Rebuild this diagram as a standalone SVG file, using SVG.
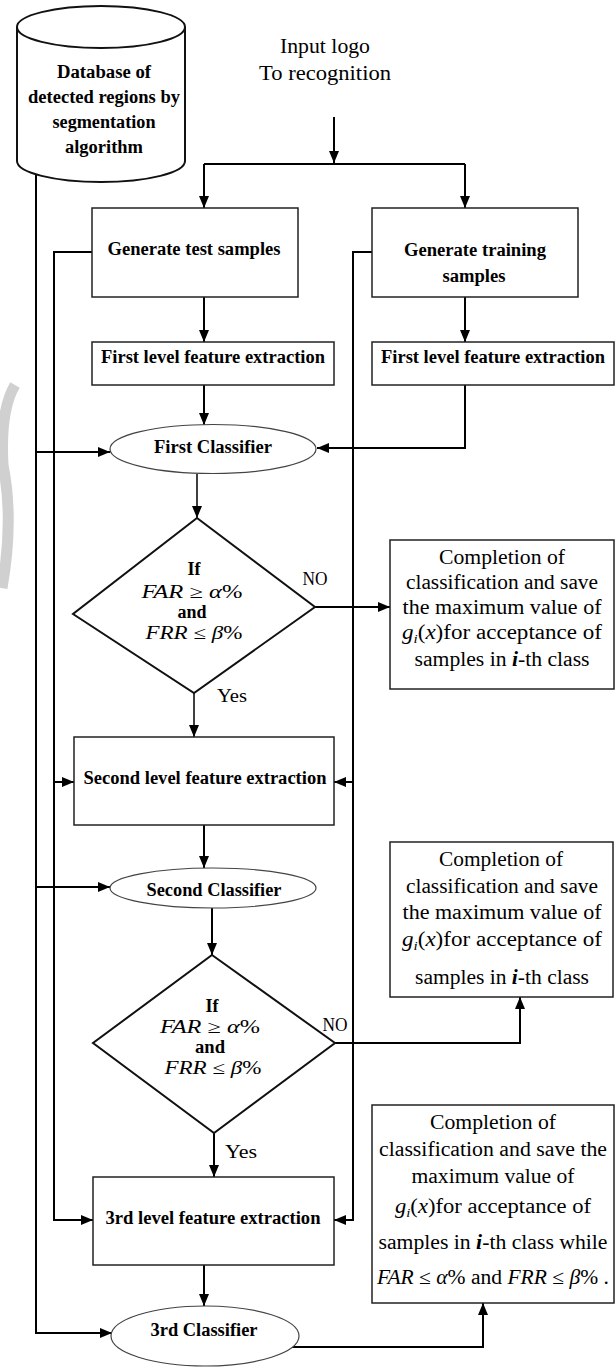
<svg xmlns="http://www.w3.org/2000/svg" width="616" height="1367" viewBox="0 0 616 1367">
<style>
.b{font-family:'Liberation Serif','DejaVu Serif',serif;font-weight:bold;font-size:18px;text-anchor:middle;fill:#000}
.r{font-family:'Liberation Serif','DejaVu Serif',serif;font-size:20px;text-anchor:middle;fill:#000}
.m{font-family:'Liberation Serif','DejaVu Serif',serif;font-size:18px;text-anchor:middle;fill:#000}
.i{font-style:italic}
.box{fill:#fff;stroke:#222;stroke-width:1.5}
.ell{fill:#fff;stroke:#444;stroke-width:1.2}
.dia{fill:#fff;stroke:#111;stroke-width:2}
.c{fill:none;stroke:#000;stroke-width:2}
.t{fill:none;stroke:#000;stroke-width:1.5}
</style>
<defs>
<marker id="a" markerUnits="userSpaceOnUse" markerWidth="12" markerHeight="12" viewBox="0 0 12 12" refX="12" refY="6" orient="auto"><path d="M0,1 L12,6 L0,11 Z" fill="#000"/></marker>
</defs>
<rect width="616" height="1367" fill="#fff"/>
<path d="M15,385 Q0,410 3,465 Q14,520 2,588" fill="none" stroke="#d0d0d0" stroke-width="11"/>
<g id="connectors">
<path class="c" d="M334,117 V163" marker-end="url(#a)"/>
<path class="c" d="M204,164 H465"/>
<path class="c" d="M204,164 V208" marker-end="url(#a)"/>
<path class="c" d="M465,164 V208" marker-end="url(#a)"/>
<path class="c" d="M204,297 V342" marker-end="url(#a)"/>
<path class="c" d="M465,297 V342" marker-end="url(#a)"/>
<path class="c" d="M204,385 V425" marker-end="url(#a)"/>
<path class="c" d="M465,385 V448 H317" marker-end="url(#a)"/>
<path class="c" d="M36,174 V1333 H112" marker-end="url(#a)"/>
<path class="c" d="M36,452 H110" marker-end="url(#a)"/>
<path class="c" d="M36,887 H110" marker-end="url(#a)"/>
<path class="c" d="M92,252 H54 V1220 H93" marker-end="url(#a)"/>
<path class="c" d="M54,782 H74" marker-end="url(#a)"/>
<path class="c" d="M372,252 H353 V1220 H334" marker-end="url(#a)"/>
<path class="c" d="M353,782 H334" marker-end="url(#a)"/>
<path class="t" d="M197,474 V518" marker-end="url(#a)"/>
<path class="c" d="M315,607 H390" marker-end="url(#a)"/>
<path class="t" d="M194,693 V737" marker-end="url(#a)"/>
<path class="c" d="M204,825 V868" marker-end="url(#a)"/>
<path class="c" d="M212,908 V955" marker-end="url(#a)"/>
<path class="c" d="M335,1043 H520 V997" marker-end="url(#a)"/>
<path class="c" d="M214,1133 V1177" marker-end="url(#a)"/>
<path class="c" d="M204,1265 V1306" marker-end="url(#a)"/>
<path class="c" d="M292,1347 H483 V1303" marker-end="url(#a)"/>
</g>
<g id="database">
<path d="M17,27 V161 A84,21 0 0 0 185,161 V27" fill="#fff" stroke="#111" stroke-width="2"/>
<ellipse cx="101" cy="27" rx="84" ry="21" fill="#fff" stroke="#111" stroke-width="2"/>
<text class="b" x="104" y="78" textLength="94" lengthAdjust="spacingAndGlyphs">Database of</text>
<text class="b" x="104" y="103" textLength="152" lengthAdjust="spacingAndGlyphs">detected regions by</text>
<text class="b" x="104" y="128" textLength="103" lengthAdjust="spacingAndGlyphs">segmentation</text>
<text class="b" x="104" y="153" textLength="78" lengthAdjust="spacingAndGlyphs">algorithm</text>
</g>
<g id="input">
<text class="r" x="325" y="53" textLength="90" lengthAdjust="spacingAndGlyphs">Input logo</text>
<text class="r" x="325" y="80" textLength="132" lengthAdjust="spacingAndGlyphs">To recognition</text>
</g>
<g id="gen-test">
<rect class="box" x="92" y="208" width="206" height="89"/>
<text class="b" x="194" y="255" textLength="173" lengthAdjust="spacingAndGlyphs">Generate test samples</text>
</g>
<g id="gen-train">
<rect class="box" x="372" y="208" width="206" height="89"/>
<text class="b" x="475" y="256" textLength="142" lengthAdjust="spacingAndGlyphs">Generate training</text>
<text class="b" x="474" y="282" textLength="63" lengthAdjust="spacingAndGlyphs">samples</text>
</g>
<g id="fe1-left">
<rect class="box" x="92" y="342" width="242" height="43"/>
<text class="b" x="213" y="363" textLength="224" lengthAdjust="spacingAndGlyphs">First level feature extraction</text>
</g>
<g id="fe1-right">
<rect class="box" x="372" y="342" width="242" height="43"/>
<text class="b" x="493" y="363" textLength="224" lengthAdjust="spacingAndGlyphs">First level feature extraction</text>
</g>
<g id="classifier1">
<ellipse class="ell" cx="213" cy="449" rx="103" ry="24.5"/>
<text class="b" x="213" y="453" textLength="118" lengthAdjust="spacingAndGlyphs">First Classifier</text>
</g>
<g id="decision1">
<polygon class="dia" points="197,518 315,607 194,693 73,614"/>
<text class="b" x="194" y="575" font-size="17">If</text>
<text class="m" x="192" y="598" textLength="101" lengthAdjust="spacingAndGlyphs"><tspan class="i">FAR</tspan> ≥ <tspan class="i">α</tspan>%</text>
<text class="b" x="192" y="618" font-size="17" textLength="29" lengthAdjust="spacingAndGlyphs">and</text>
<text class="m" x="194" y="639" textLength="97" lengthAdjust="spacingAndGlyphs"><tspan class="i">FRR</tspan> ≤ <tspan class="i">β</tspan>%</text>
<text class="m" x="315" y="585" textLength="25" lengthAdjust="spacingAndGlyphs">NO</text>
<text class="m" x="232" y="702" textLength="30" lengthAdjust="spacingAndGlyphs">Yes</text>
</g>
<g id="complete1">
<rect class="box" x="390" y="540" width="224" height="149"/>
<text class="r" x="502" y="564" textLength="126" lengthAdjust="spacingAndGlyphs">Completion of</text>
<text class="r" x="502" y="589" textLength="192" lengthAdjust="spacingAndGlyphs">classification and save</text>
<text class="r" x="502" y="614" textLength="199" lengthAdjust="spacingAndGlyphs">the maximum value of</text>
<text class="r" x="502" y="639" textLength="200" lengthAdjust="spacingAndGlyphs"><tspan class="i">g</tspan><tspan class="i" font-size="13" dy="4">i</tspan><tspan dy="-4">(</tspan><tspan class="i">x</tspan>)for acceptance of</text>
<text class="r" x="502" y="666" textLength="175" lengthAdjust="spacingAndGlyphs">samples in <tspan class="i" font-weight="bold">i</tspan>-th class</text>
</g>
<g id="fe2">
<rect class="box" x="74" y="737" width="260" height="88"/>
<text class="b" x="205" y="784" textLength="243" lengthAdjust="spacingAndGlyphs">Second level feature extraction</text>
</g>
<g id="classifier2">
<ellipse class="ell" cx="213" cy="888" rx="103" ry="20"/>
<text class="b" x="214" y="896" textLength="135" lengthAdjust="spacingAndGlyphs">Second Classifier</text>
</g>
<g id="decision2">
<polygon class="dia" points="212,955 335,1043 214,1133 93,1043"/>
<text class="b" x="212" y="1012" font-size="17">If</text>
<text class="m" x="210" y="1033" textLength="100" lengthAdjust="spacingAndGlyphs"><tspan class="i">FAR</tspan> ≥ <tspan class="i">α</tspan>%</text>
<text class="b" x="210" y="1053" font-size="17" textLength="30" lengthAdjust="spacingAndGlyphs">and</text>
<text class="m" x="213" y="1074" textLength="97" lengthAdjust="spacingAndGlyphs"><tspan class="i">FRR</tspan> ≤ <tspan class="i">β</tspan>%</text>
<text class="m" x="335" y="1031" textLength="25" lengthAdjust="spacingAndGlyphs">NO</text>
<text class="m" x="241" y="1158" textLength="32" lengthAdjust="spacingAndGlyphs">Yes</text>
</g>
<g id="complete2">
<rect class="box" x="390" y="842" width="223" height="155"/>
<text class="r" x="501" y="866" textLength="124" lengthAdjust="spacingAndGlyphs">Completion of</text>
<text class="r" x="502" y="893" textLength="192" lengthAdjust="spacingAndGlyphs">classification and save</text>
<text class="r" x="502" y="919" textLength="199" lengthAdjust="spacingAndGlyphs">the maximum value of</text>
<text class="r" x="502" y="946" textLength="200" lengthAdjust="spacingAndGlyphs"><tspan class="i">g</tspan><tspan class="i" font-size="13" dy="4">i</tspan><tspan dy="-4">(</tspan><tspan class="i">x</tspan>)for acceptance of</text>
<text class="r" x="502" y="984" textLength="174" lengthAdjust="spacingAndGlyphs">samples in <tspan class="i" font-weight="bold">i</tspan>-th class</text>
</g>
<g id="fe3">
<rect class="box" x="93" y="1177" width="241" height="88"/>
<text class="b" x="213" y="1224" textLength="215" lengthAdjust="spacingAndGlyphs">3rd level feature extraction</text>
</g>
<g id="classifier3">
<ellipse class="ell" cx="205" cy="1336" rx="94" ry="30"/>
<text class="b" x="204" y="1336" textLength="107" lengthAdjust="spacingAndGlyphs">3rd Classifier</text>
</g>
<g id="complete3">
<rect class="box" x="372" y="1105" width="242" height="198"/>
<text class="r" x="493" y="1129" textLength="126" lengthAdjust="spacingAndGlyphs">Completion of</text>
<text class="r" x="493" y="1156" textLength="228" lengthAdjust="spacingAndGlyphs">classification and save the</text>
<text class="r" x="493" y="1183" textLength="163" lengthAdjust="spacingAndGlyphs">maximum value of</text>
<text class="r" x="493" y="1213" textLength="196" lengthAdjust="spacingAndGlyphs"><tspan class="i">g</tspan><tspan class="i" font-size="13" dy="4">i</tspan><tspan dy="-4">(</tspan><tspan class="i">x</tspan>)for acceptance of</text>
<text class="r" x="493" y="1249" textLength="229" lengthAdjust="spacingAndGlyphs">samples in <tspan class="i" font-weight="bold">i</tspan>-th class while</text>
<text class="r" x="493" y="1284" textLength="232" lengthAdjust="spacingAndGlyphs"><tspan class="i">FAR</tspan> ≤ <tspan class="i">α</tspan>% and <tspan class="i">FRR</tspan> ≤ <tspan class="i">β</tspan>% .</text>
</g>
</svg>
